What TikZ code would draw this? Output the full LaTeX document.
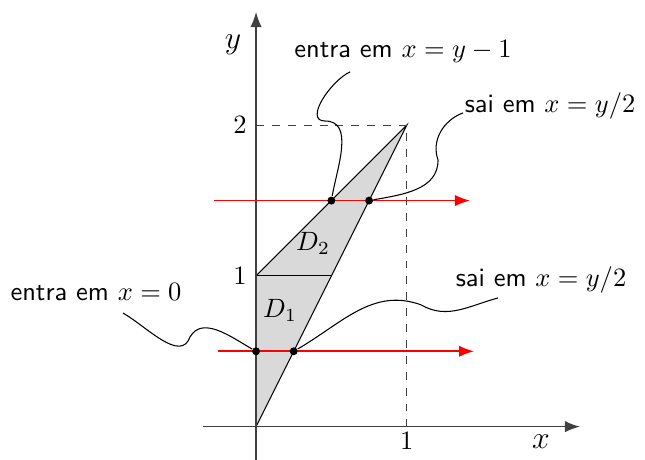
\documentclass[tikz,border=0pt]{standalone}
\usepackage{amsmath}
\usetikzlibrary{arrows.meta,positioning,calc}

\begin{document}
\begin{tikzpicture}[
  x=2cm, y=2cm,
  axis/.style={-{Latex}, semithick, black!75},
  guide/.style={dashed, black!75},
  region/.style={fill=black!15, draw=black},
  ray/.style={-{Latex}, semithick, red},
  dot/.style={circle, fill=black, inner sep=0pt, minimum size=3pt},
  note/.style={font=\sffamily, inner sep=1pt},
  callout/.style={thin}
]
\useasboundingbox (-1.699,-0.221) rectangle (2.581,2.831);

% region D = D1 u D2
\draw[region] (0,0) -- (1,2) -- (0,1) -- cycle;
\draw (0,1) -- (0.5,1);
\node at (0.378,1.218) {$D_2$};
\node at (0.159,0.774) {$D_1$};

\draw[guide] (0,2) -- (1,2) -- (1,0);

% axes
\draw[axis] (-0.352,0) -- (2.15,0);
\draw[axis] (0,-0.221) -- (0,2.752);
\node[font=\large] (xl) at (1.891,-0.10) {$x$};
\node[font=\large] (yl) at (-0.153,2.533) {$y$};
\node[below=0pt, inner sep=2pt] (t1) at (1,0) {$1$};
\node[left=0pt] (u1) at (0,1) {$1$};
\node[left=0pt] (u2) at (0,2) {$2$};

% horizontal rays
\draw[ray] (-0.279,1.5) -- (1.42,1.5);
\draw[ray] (-0.252,0.5) -- (1.447,0.5);

\node[dot] (p1) at (0.5,1.5) {};
\node[dot] (p2) at (0.75,1.5) {};
\node[dot] (p3) at (0,0.5) {};
\node[dot] (p4) at (0.25,0.5) {};

% labels
\node[note] (n1) at (0.975,2.486) {entra em $x=y-1$};
\node[note] (n2) at (1.951,2.128) {sai em $x=y/2$};
\node[note] (n3) at (-1.062,0.894) {entra em $x=0$};
\node[note] (n4) at (1.891,0.973) {sai em $x=y/2$};

\coordinate (c1) at (0.624,2.354);
\coordinate (m1) at (0.458,2.028);
\coordinate (c2) at (1.374,2.082);
\coordinate (m2) at (1.208,1.769);
\coordinate (c3) at (-0.883,0.754);
\coordinate (m3) at (-0.438,0.595);
\coordinate (c4) at (1.606,0.854);
\coordinate (m4) at (1.095,0.808);

\draw[callout] (c1) to[out=205,in=180] (m1) to[out=0,in=80] (p1);
\draw[callout] (c2) to[out=200,in=110] (m2) to[out=270,in=10] (p2);
\draw[callout] (c3) to[out=-30,in=250] (m3) to[out=60,in=150] (p3);
\draw[callout] (c4) to[out=195,in=330] (m4) to[out=160,in=30] (p4);
\end{tikzpicture}
\end{document}
